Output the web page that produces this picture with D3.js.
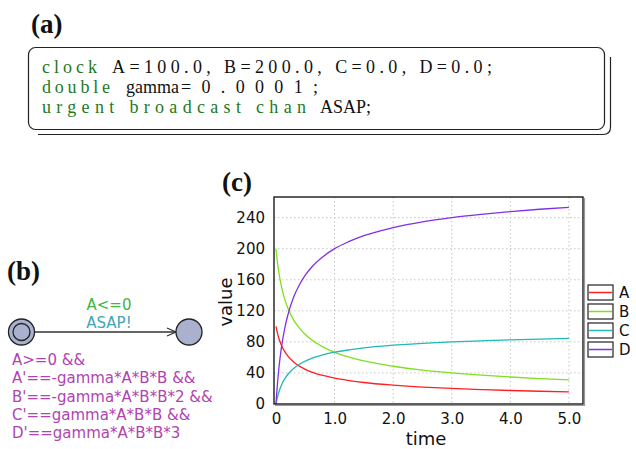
<!DOCTYPE html>
<html>
<head>
<meta charset="utf-8">
<style>
    body { margin: 0; background: #fff; }
    svg { display: block; }
    .tick text { font-family: "DejaVu Sans", sans-serif; font-size: 15px; fill: #111; }
    .domain { display: none; }
    .grid line { stroke: #c4c4c4; stroke-dasharray: 1.5,2.5; }
    .panel { font-family: "Liberation Serif", serif; font-weight: bold; font-size: 27px; fill: #111; }
    .code { font-family: "Liberation Serif", serif; font-size: 18px; fill: #111; }
    .kw { fill: #1e7a1e; }
    .sans { font-family: "DejaVu Sans", sans-serif; }
</style>
</head>
<body>
<svg width="636" height="449"></svg>
<script src="https://d3js.org/d3.v7.min.js"></script>
<script>
// simulation output
let times = [0, 0.01, 0.02, 0.04, 0.06, 0.08, 0.1, 0.15, 0.2, 0.3, 0.4, 0.5, 0.6, 0.8, 1.0, 1.25, 1.5, 2.0, 2.5, 3.0, 3.5, 4.0, 4.5, 5.0]
let seriesA = [100, 96.2, 92.8, 87.0, 82.2, 78.1, 74.5, 67.4, 62.0, 54.2, 48.8, 44.7, 41.5, 36.8, 33.3, 30.2, 27.7, 24.3, 21.8, 20.0, 18.6, 17.4, 16.4, 15.6]
let seriesB = [200, 192.4, 185.6, 174.0, 164.4, 156.2, 149.0, 134.8, 124.0, 108.4, 97.6, 89.4, 83.0, 73.6, 66.6, 60.4, 55.4, 48.6, 43.6, 40.0, 37.2, 34.8, 32.8, 31.2]
let seriesC = [0, 3.8, 7.2, 13.0, 17.8, 21.9, 25.5, 32.6, 38.0, 45.8, 51.2, 55.3, 58.5, 63.2, 66.7, 69.8, 72.3, 75.7, 78.2, 80.0, 81.4, 82.6, 83.6, 84.4]
let seriesD = [0, 11.4, 21.6, 39.0, 53.4, 65.7, 76.5, 97.8, 114.0, 137.4, 153.6, 165.9, 175.5, 189.6, 200.1, 209.4, 216.9, 227.1, 234.6, 240.0, 244.2, 247.8, 250.8, 253.2]
let seriesNames = ["A", "B", "C", "D"]
let xTicks = [0, 1, 2, 3, 4, 5]
let yTicks = [0, 40, 80, 120, 160, 200, 240]

let colors = { A: "#ff2020", B: "#7ee020", C: "#20b8b8", D: "#8030e8" }
let series = [seriesA, seriesB, seriesC, seriesD]

let svg = d3.select("svg")

// ---------- (a) declarations box ----------
svg.append("text").attr("class", "panel").attr("x", 31).attr("y", 33).text("(a)")

svg.append("rect")
    .attr("x", 28.5).attr("y", 47.5).attr("width", 576).attr("height", 82)
    .attr("rx", 7)
    .style("fill", "none").style("stroke", "#222").style("stroke-width", 1.2)
svg.append("path")
    .attr("d", "M610.5,57 L610.5,127 Q610.5,134.5 603,134.5 L38,134.5")
    .style("fill", "none").style("stroke", "#222").style("stroke-width", 1.2)

// each segment: text, keyword?, start x, stretched length (0 = natural)
let codeLines = [
    { y: 73, parts: [["clock", true, 42, 55], ["A=100.0, B=200.0, C=0.0, D=0.0;", false, 112, 380]] },
    { y: 93, parts: [["double", true, 42, 68], ["gamma", false, 126, 0], ["=0.0001;", false, 181, 137]] },
    { y: 113, parts: [["urgent broadcast chan", true, 42, 264], ["ASAP;", false, 320, 0]] }
]
codeLines.forEach(function (line) {
    let t = svg.append("text").attr("class", "code").attr("y", line.y)
    line.parts.forEach(function (p) {
        let s = t.append("tspan")
            .attr("class", p[1] ? "kw" : null)
            .attr("x", p[2])
            .text(p[0])
        if (p[3] > 0) {
            s.attr("textLength", p[3]).attr("lengthAdjust", "spacing")
        }
    })
})

// ---------- (b) automaton ----------
svg.append("text").attr("class", "panel").attr("x", 7).attr("y", 280).text("(b)")

let stateFill = "#a9b1cf"
svg.append("line")
    .attr("x1", 35).attr("x2", 176).attr("y1", 332).attr("y2", 332)
    .style("stroke", "#333").style("stroke-width", 1.3)
svg.append("path")
    .attr("d", "M167,328 L176,332 L167,336")
    .style("fill", "none").style("stroke", "#333").style("stroke-width", 1.3)
svg.append("circle").attr("cx", 21.5).attr("cy", 332).attr("r", 13)
    .style("fill", stateFill).style("stroke", "#222").style("stroke-width", 1.3)
svg.append("circle").attr("cx", 21.5).attr("cy", 332).attr("r", 8.5)
    .style("fill", stateFill).style("stroke", "#222").style("stroke-width", 1.3)
svg.append("circle").attr("cx", 189).attr("cy", 332).attr("r", 13)
    .style("fill", stateFill).style("stroke", "#222").style("stroke-width", 1.3)

svg.append("text").attr("class", "sans").attr("x", 109).attr("y", 310)
    .style("text-anchor", "middle").style("font-size", "15px").style("fill", "#3fb43f")
    .text("A<=0")
svg.append("text").attr("class", "sans").attr("x", 109).attr("y", 328)
    .style("text-anchor", "middle").style("font-size", "15px").style("fill", "#3ea6b4")
    .text("ASAP!")

let invariant = ["A>=0 &&", "A'==-gamma*A*B*B &&", "B'==-gamma*A*B*B*2 &&", "C'==gamma*A*B*B &&", "D'==gamma*A*B*B*3"]
svg.append("g").selectAll("text")
    .data(invariant)
    .join("text")
    .attr("class", "sans")
    .attr("x", 12)
    .attr("y", (d, i) => 365 + i * 18.3)
    .style("font-size", "15px")
    .style("fill", "#b044b0")
    .text(d => d)

// ---------- (c) plot ----------
svg.append("text").attr("class", "panel").attr("x", 222).attr("y", 191).text("(c)")

let x = d3.scaleLinear().domain([-0.034, 5.24]).range([274, 583])
let y = d3.scaleLinear().domain([0, 266.6]).range([404, 197])

// grid
svg.append("g").attr("class", "grid")
    .selectAll("line").data(xTicks.slice(1)).join("line")
    .attr("x1", d => x(d)).attr("x2", d => x(d))
    .attr("y1", y.range()[1]).attr("y2", y.range()[0])
svg.append("g").attr("class", "grid")
    .selectAll("line").data(yTicks.slice(1)).join("line")
    .attr("x1", x.range()[0]).attr("x2", x.range()[1])
    .attr("y1", d => y(d)).attr("y2", d => y(d))

let line = d3.line()
    .x((d, i) => x(times[i]))
    .y(d => y(d))
    .curve(d3.curveMonotoneX)

svg.append("g").selectAll("path")
    .data(series)
    .join("path")
    .attr("d", d => line(d))
    .style("fill", "none")
    .style("stroke", (d, i) => colors[seriesNames[i]])
    .style("stroke-width", 1.3)

// frame
svg.append("rect")
    .attr("x", x.range()[0]).attr("y", y.range()[1])
    .attr("width", x.range()[1] - x.range()[0]).attr("height", y.range()[0] - y.range()[1])
    .style("fill", "none").style("stroke", "#1a1a1a").style("stroke-width", 1.4)
svg.append("path")
    .attr("d", `M${x.range()[1] + 1.5},${y.range()[1] + 1} V${y.range()[0] + 1.5} H${x.range()[0] + 1}`)
    .style("fill", "none").style("stroke", "#999").style("stroke-width", 1.2)

svg.append("g")
    .attr("transform", `translate(0,${y.range()[0]})`)
    .call(d3.axisBottom(x).tickValues(xTicks).tickSize(0).tickPadding(9)
        .tickFormat(d => d == 0 ? "0" : d3.format(".1f")(d)))

svg.append("g")
    .attr("transform", `translate(${x.range()[0]},0)`)
    .call(d3.axisLeft(y).tickValues(yTicks).tickSize(0).tickPadding(9))

svg.append("text").attr("class", "sans")
    .attr("x", 426).attr("y", 445)
    .style("text-anchor", "middle").style("font-size", "18px").style("fill", "#111")
    .text("time")
svg.append("text").attr("class", "sans")
    .attr("transform", "translate(232,302) rotate(-90)")
    .style("text-anchor", "middle").style("font-size", "18px").style("fill", "#111")
    .text("value")

// legend
let legend = svg.append("g").selectAll("g")
    .data(seriesNames)
    .join("g")
    .attr("transform", (d, i) => `translate(588,${285 + i * 19})`)
legend.append("rect")
    .attr("width", 25).attr("height", 15)
    .style("fill", "#fff").style("stroke", "#222").style("stroke-width", 1.2)
legend.append("line")
    .attr("x1", 1).attr("x2", 24).attr("y1", 7.5).attr("y2", 7.5)
    .style("stroke", d => colors[d]).style("stroke-width", 1.5)
legend.append("text").attr("class", "sans")
    .attr("x", 31).attr("y", 7.5).attr("dy", "0.36em")
    .style("font-size", "15px").style("fill", "#111")
    .text(d => d)
</script>
</body>
</html>
